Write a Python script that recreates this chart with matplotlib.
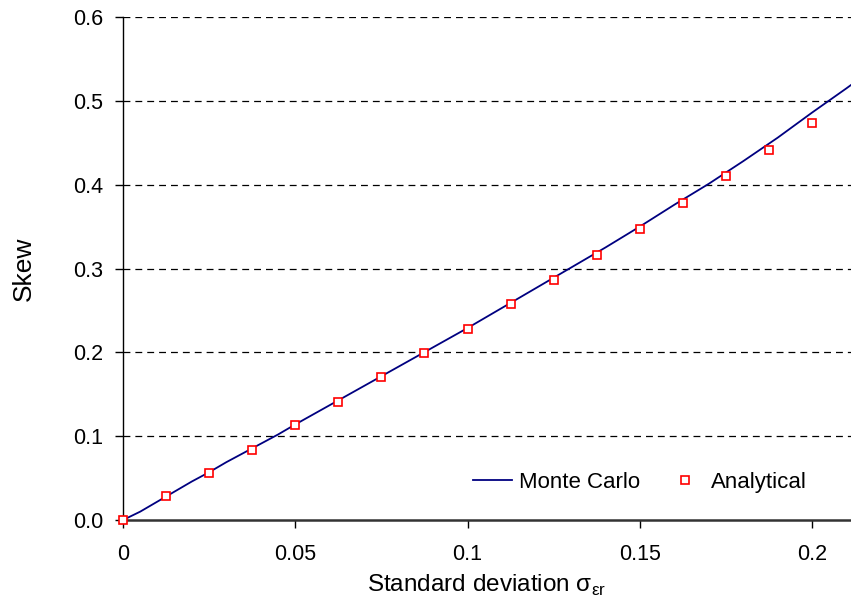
import matplotlib
matplotlib.use("Agg")
import matplotlib.pyplot as plt

plt.rcParams['font.family'] = ['Liberation Sans', 'DejaVu Sans']
plt.rcParams['mathtext.fontset'] = 'custom'
plt.rcParams['mathtext.rm'] = 'Liberation Sans'

# Monte Carlo skew estimate
mc_sigma = [0.0, 0.005, 0.01, 0.015, 0.02, 0.025, 0.03, 0.035, 0.04, 0.045,
            0.05, 0.06, 0.07, 0.08, 0.09, 0.10, 0.11, 0.12, 0.13, 0.14,
            0.15, 0.16, 0.17, 0.18, 0.19, 0.20, 0.21, 0.215]
mc_skew = [0.0, 0.010, 0.022, 0.034, 0.046, 0.057, 0.069, 0.080, 0.091, 0.102,
           0.114, 0.137, 0.160, 0.183, 0.206, 0.229, 0.253, 0.277, 0.301, 0.325,
           0.350, 0.376, 0.401, 0.428, 0.456, 0.486, 0.515, 0.530]

# analytical result
an_sigma = [0.0, 0.0125, 0.025, 0.0375, 0.05, 0.0625, 0.075, 0.0875, 0.1,
            0.1125, 0.125, 0.1375, 0.15, 0.1625, 0.175, 0.1875, 0.2]
an_skew = [0.0, 0.029, 0.056, 0.084, 0.113, 0.141, 0.171, 0.199, 0.228,
           0.258, 0.286, 0.316, 0.347, 0.378, 0.410, 0.441, 0.473]

xticks = [0, 0.05, 0.1, 0.15, 0.2]
xtick_labels = ['0', '0.05', '0.1', '0.15', '0.2']
yticks = [0.0, 0.1, 0.2, 0.3, 0.4, 0.5, 0.6]

fig = plt.figure(figsize=(8.51, 6.03), dpi=100)
ax = fig.add_axes([0.1445, 0.1376, 0.8555, 0.8342])

for y in yticks[1:]:
    ax.axhline(y, color='black', linestyle=(0, (5.5, 4)), linewidth=0.9, zorder=1)

ax.plot(mc_sigma, mc_skew, color='#000080', linewidth=1.3, label='Monte Carlo', zorder=3)
ax.plot(an_sigma, an_skew, linestyle='none', marker='s', markersize=6,
        markerfacecolor='white', markeredgecolor='red', markeredgewidth=1.2,
        label='Analytical', zorder=4, clip_on=False)

ax.set_xlim(0, 0.2113)
ax.set_ylim(0, 0.6)
ax.set_xticks(xticks)
ax.set_xticklabels(xtick_labels)
ax.set_yticks(yticks)
ax.set_yticklabels(['%.1f' % v for v in yticks])
ax.tick_params(direction='out', length=6, width=1, labelsize=15.5)
ax.tick_params(axis='x', pad=11)
ax.tick_params(axis='y', pad=8)

for side in ['top', 'right']:
    ax.spines[side].set_visible(False)
ax.spines['left'].set_linewidth(1.0)
ax.spines['bottom'].set_linewidth(1.8)
ax.spines['bottom'].set_color('#333333')

ax.set_xlabel('Standard deviation σ$_{\\mathregular{εr}}$', fontsize=17.5, labelpad=6)
ax.set_ylabel('Skew', fontsize=19, labelpad=27)

ax.legend(loc='center right', ncol=2, frameon=False, fontsize=16,
          bbox_to_anchor=(0.9396, 0.0755), borderaxespad=0, borderpad=0,
          handlelength=1.75, handletextpad=0.3, columnspacing=1.15)

fig.savefig('out.png', dpi=100)
